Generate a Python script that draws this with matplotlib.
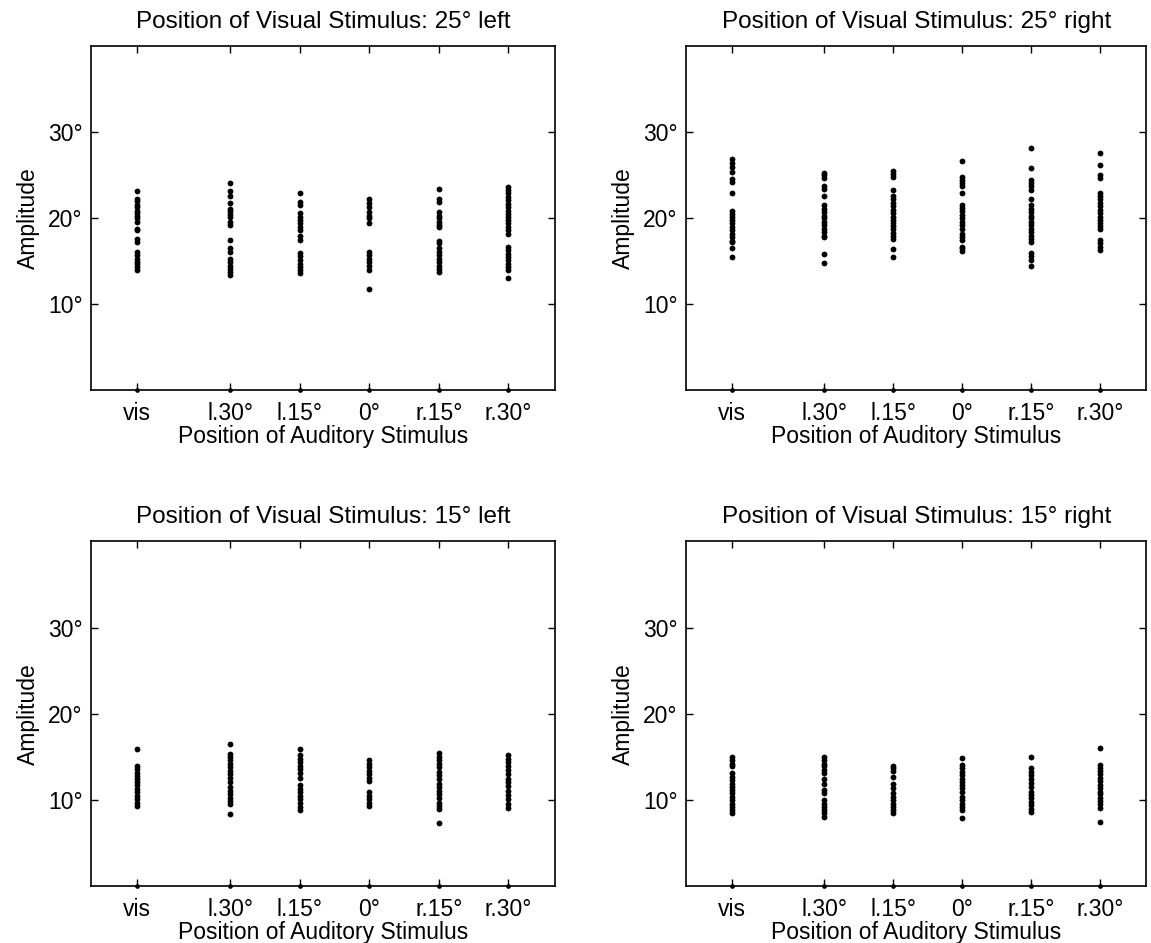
import numpy as np
import matplotlib
matplotlib.use('Agg')
import matplotlib.pyplot as plt

plt.rcParams['font.family'] = ['Liberation Sans', 'DejaVu Sans']

# category positions on the x axis (auditory stimulus position, vis = visual only)
labels = ['vis', 'l.30°', 'l.15°', '0°', 'r.15°', 'r.30°']
xpos = [-50, -30, -15, 0, 15, 30]

titles = ['Position of Visual Stimulus: 25° left',
          'Position of Visual Stimulus: 25° right',
          'Position of Visual Stimulus: 15° left',
          'Position of Visual Stimulus: 15° right']

# amplitudes, one list per auditory position
left25 = [
    [23.2, 22.3, 22.0, 21.6, 21.3, 20.9, 20.6, 20.3, 20.0, 19.6, 18.8, 18.6, 17.6, 17.2, 16.1, 15.7, 15.3, 14.9, 14.7, 14.3, 14.0],
    [24.1, 23.2, 22.6, 21.8, 21.1, 20.9, 20.5, 20.2, 19.6, 19.2, 17.5, 16.5, 16.1, 15.3, 14.9, 14.5, 14.1, 13.8, 13.4],
    [22.9, 21.9, 21.5, 20.6, 20.2, 19.8, 19.4, 19.0, 18.6, 18.0, 17.5, 16.0, 15.6, 15.1, 14.7, 14.3, 14.0, 13.6],
    [22.3, 21.8, 21.3, 20.7, 20.3, 20.0, 19.5, 16.1, 15.7, 15.3, 14.9, 14.4, 14.0, 11.8],
    [23.4, 22.2, 21.9, 20.7, 20.3, 20.0, 19.6, 19.2, 19.0, 17.4, 17.1, 16.5, 16.1, 15.7, 15.3, 14.9, 14.5, 14.1, 13.8],
    [23.6, 23.3, 22.9, 22.5, 22.1, 21.7, 21.3, 20.9, 20.5, 20.2, 19.8, 19.4, 19.0, 18.6, 18.2, 16.7, 16.3, 15.9, 15.5, 15.1, 14.7, 14.3, 14.0, 13.1],
]
right25 = [
    [26.9, 26.4, 26.0, 25.4, 24.6, 24.2, 22.9, 20.9, 20.5, 20.2, 19.8, 19.4, 19.0, 18.6, 18.2, 17.8, 17.4, 17.2, 16.5, 15.5],
    [25.3, 25.0, 24.7, 23.7, 23.4, 22.6, 21.5, 21.1, 20.7, 20.3, 20.0, 19.6, 19.2, 18.8, 18.4, 18.0, 17.8, 15.9, 14.8],
    [25.5, 25.1, 24.8, 23.3, 22.6, 22.2, 21.8, 21.4, 21.0, 20.6, 20.2, 19.8, 19.5, 19.1, 18.7, 18.3, 17.9, 17.6, 16.4, 15.5],
    [26.7, 24.8, 24.4, 24.1, 23.7, 22.9, 21.6, 21.2, 20.8, 20.4, 20.0, 19.6, 19.2, 18.8, 18.2, 17.8, 17.5, 16.7, 16.5, 16.2],
    [28.2, 25.9, 24.5, 24.1, 23.7, 23.3, 22.3, 21.5, 21.1, 20.7, 20.3, 20.0, 19.6, 19.2, 18.8, 18.4, 18.0, 17.6, 17.2, 16.0, 15.6, 15.1, 14.5],
    [27.6, 26.2, 25.0, 24.7, 22.9, 22.6, 22.2, 21.8, 21.4, 21.0, 20.6, 20.2, 19.8, 19.5, 19.1, 18.7, 17.5, 17.1, 16.7, 16.3],
]
left15 = [
    [15.9, 14.0, 13.6, 13.2, 12.8, 12.4, 12.1, 11.7, 11.3, 10.9, 10.5, 10.1, 9.7, 9.3],
    [16.5, 15.3, 15.0, 14.6, 14.2, 13.8, 13.4, 13.0, 12.6, 12.1, 11.5, 11.1, 10.7, 10.3, 9.9, 9.5, 8.4],
    [15.9, 15.2, 14.8, 14.4, 14.0, 13.6, 13.2, 12.6, 11.7, 11.3, 10.9, 10.5, 10.1, 9.7, 9.2, 8.8],
    [14.6, 14.2, 13.8, 13.4, 13.0, 12.6, 12.2, 10.9, 10.5, 10.1, 9.7, 9.3],
    [15.5, 15.0, 14.6, 14.2, 13.8, 13.3, 12.9, 12.4, 11.9, 11.5, 11.1, 10.7, 10.2, 9.7, 9.3, 9.0, 7.3],
    [15.2, 14.8, 14.4, 14.0, 13.5, 13.0, 12.5, 12.1, 11.6, 11.1, 10.6, 10.1, 9.6, 9.1],
]
right15 = [
    [15.0, 14.6, 14.2, 13.9, 13.1, 12.7, 12.3, 11.9, 11.5, 11.2, 10.8, 10.4, 10.0, 9.6, 9.2, 8.8, 8.5],
    [15.0, 14.6, 14.2, 13.9, 13.5, 13.1, 12.5, 11.9, 11.2, 10.8, 10.0, 9.6, 9.2, 8.8, 8.5, 8.0],
    [14.0, 13.7, 13.4, 12.7, 11.9, 11.4, 10.8, 10.4, 10.0, 9.6, 9.2, 8.8, 8.5],
    [14.9, 14.1, 13.7, 13.3, 12.9, 12.5, 12.1, 11.7, 11.4, 10.9, 10.4, 10.0, 9.6, 9.2, 8.8, 7.9],
    [15.0, 13.7, 13.3, 12.9, 12.5, 12.0, 11.5, 11.0, 10.6, 10.2, 9.8, 9.4, 9.0, 8.6],
    [16.0, 14.1, 13.7, 13.4, 13.0, 12.6, 12.2, 11.8, 11.4, 11.0, 10.7, 10.3, 9.9, 9.5, 9.1, 7.5],
]

panels = [left25, right25, left15, right15]
yticks = [10, 20, 30]
ytick_labels = ['10°', '20°', '30°']

fig = plt.figure(figsize=(11.51, 9.43), dpi=100)
boxes = [[0.079, 0.586, 0.403, 0.365],
         [0.596, 0.586, 0.400, 0.365],
         [0.079, 0.060, 0.403, 0.366],
         [0.596, 0.060, 0.400, 0.366]]

for box, data, title in zip(boxes, panels, titles):
    ax = fig.add_axes(box)
    for x, vals in zip(xpos, data):
        ax.plot([x] * len(vals), vals, 'o', color='black', markersize=4.2, markeredgewidth=0)
    # baseline markers at zero amplitude
    ax.plot(xpos, [0] * len(xpos), 'o', color='black', markersize=3.4, markeredgewidth=0, clip_on=False, zorder=5)
    ax.set_xlim(-60, 40)
    ax.set_ylim(0, 40)
    ax.set_xticks(xpos)
    ax.set_xticklabels(labels)
    ax.set_yticks(yticks)
    ax.set_yticklabels(ytick_labels)
    ax.tick_params(direction='in', top=True, right=True, length=5, width=1, labelsize=16.5)
    ax.tick_params(axis='x', pad=8)
    ax.tick_params(axis='y', pad=6)
    for s in ax.spines.values():
        s.set_linewidth(1.2)
    ax.set_title(title, fontsize=17.5, pad=13)
    ax.set_xlabel('Position of Auditory Stimulus', fontsize=16.5, labelpad=0)
    ax.set_ylabel('Amplitude', fontsize=16.5, labelpad=6)

fig.savefig('out.png', dpi=100)
